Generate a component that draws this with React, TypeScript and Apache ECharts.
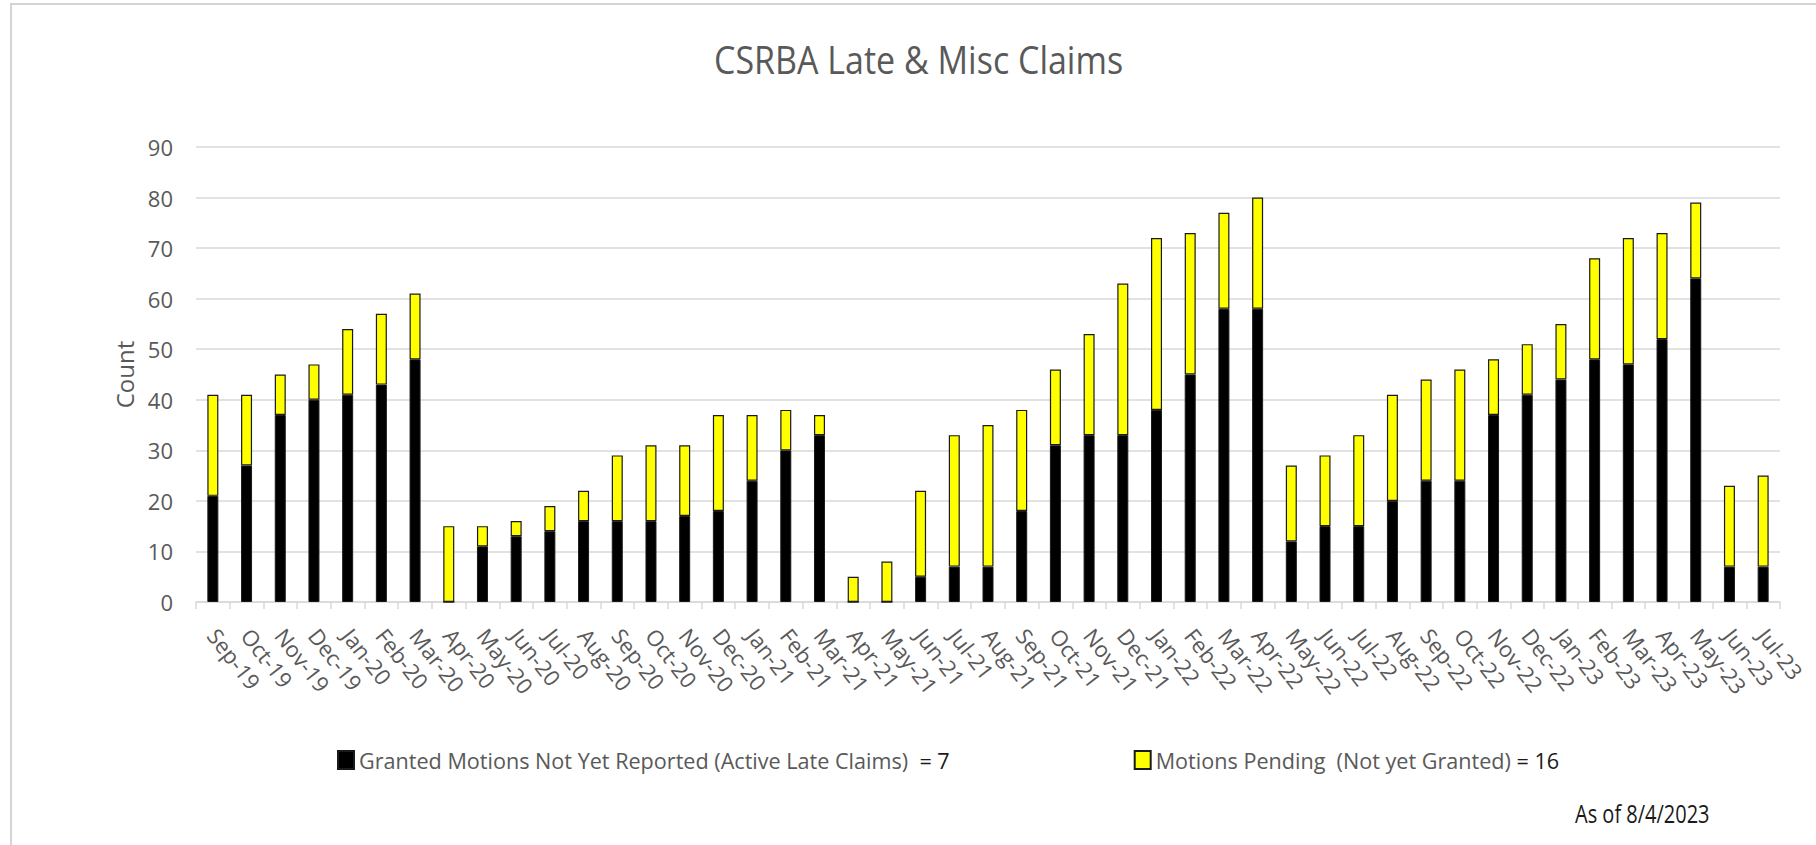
import React, { useEffect, useRef } from "react";
import * as echarts from "echarts";

const months: string[] = [
  "Sep-19", "Oct-19", "Nov-19", "Dec-19",
  "Jan-20", "Feb-20", "Mar-20", "Apr-20", "May-20", "Jun-20", "Jul-20", "Aug-20", "Sep-20", "Oct-20", "Nov-20", "Dec-20",
  "Jan-21", "Feb-21", "Mar-21", "Apr-21", "May-21", "Jun-21", "Jul-21", "Aug-21", "Sep-21", "Oct-21", "Nov-21", "Dec-21",
  "Jan-22", "Feb-22", "Mar-22", "Apr-22", "May-22", "Jun-22", "Jul-22", "Aug-22", "Sep-22", "Oct-22", "Nov-22", "Dec-22",
  "Jan-23", "Feb-23", "Mar-23", "Apr-23", "May-23", "Jun-23", "Jul-23",
];

const granted: number[] = [
  21, 27, 37, 40,
  41, 43, 48, 0, 11, 13, 14, 16, 16, 16, 17, 18,
  24, 30, 33, 0, 0, 5, 7, 7, 18, 31, 33, 33,
  38, 45, 58, 58, 12, 15, 15, 20, 24, 24, 37, 41,
  44, 48, 47, 52, 64, 7, 7,
];

const pending: number[] = [
  20, 14, 8, 7,
  13, 14, 13, 15, 4, 3, 5, 6, 13, 15, 14, 19,
  13, 8, 4, 5, 8, 17, 26, 28, 20, 15, 20, 30,
  34, 28, 19, 22, 15, 14, 18, 21, 20, 22, 11, 10,
  11, 20, 25, 21, 15, 16, 18,
];

const yTicks = { min: 0, max: 90, interval: 10 };

const titleText = "CSRBA Late & Misc Claims";
const grantedName = "Granted Motions Not Yet Reported (Active Late Claims)";
const grantedSuffix = "  = 7";
const pendingName = "Motions Pending  (Not yet Granted)";
const pendingSuffix = " = 16";
const asOfText = "As of 8/4/2023";
const yAxisName = "Count";

const FONT = "'Open Sans', sans-serif";
const GRAY = "#595959";

export default function App() {
  const ref = useRef<HTMLDivElement>(null);

  useEffect(() => {
    if (!ref.current) return;
    const chart = echarts.init(ref.current, undefined, { renderer: "svg" });
    const suffixes: Record<string, string> = {
      [grantedName]: grantedSuffix,
      [pendingName]: pendingSuffix,
    };
    chart.setOption({
      animation: false,
      backgroundColor: "#ffffff",
      textStyle: { fontFamily: FONT },
      graphic: [
        {
          type: "rect",
          silent: true,
          shape: { x: 11, y: 4, width: 1900, height: 900 },
          style: { fill: "none", stroke: "#d4d4d4", lineWidth: 2 },
        },
        {
          type: "text",
          x: 714,
          y: 59,
          scaleY: 1.15,
          style: {
            text: titleText,
            fontFamily: FONT,
            fontSize: 34,
            fill: GRAY,
            verticalAlign: "middle",
          },
        },
        {
          type: "text",
          x: 1575,
          y: 814,
          scaleY: 1.25,
          style: {
            text: asOfText,
            fontFamily: FONT,
            fontSize: 20,
            fill: "#1a1a1a",
            verticalAlign: "middle",
          },
        },
      ],
      legend: {
        left: 332,
        top: 744,
        itemWidth: 16,
        itemHeight: 18,
        itemGap: 184,
        icon: "rect",
        data: [grantedName, pendingName],
        formatter: (name: string) => `{a|${name}}{b|${suffixes[name] || ""}}`,
        textStyle: {
          fontFamily: FONT,
          fontSize: 21.6,
          color: GRAY,
          rich: {
            a: { fontFamily: FONT, fontSize: 21.6, color: GRAY },
            b: { fontFamily: FONT, fontSize: 21.6, color: "#1a1a1a" },
          },
        },
      },
      grid: { left: 196, top: 147, width: 1584, height: 455, containLabel: false },
      xAxis: {
        type: "category",
        data: months,
        axisLine: { show: true, lineStyle: { color: "#d9d9d9", width: 1.5 } },
        axisTick: { show: true, length: 7, lineStyle: { color: "#d9d9d9", width: 1.5 } },
        axisLabel: {
          interval: 0,
          rotate: -52,
          margin: 29,
          fontFamily: FONT,
          fontSize: 22,
          color: GRAY,
        },
      },
      yAxis: {
        type: "value",
        min: yTicks.min,
        max: yTicks.max,
        interval: yTicks.interval,
        name: yAxisName,
        nameLocation: "middle",
        nameGap: 60,
        nameTextStyle: { fontFamily: FONT, fontSize: 24, color: GRAY },
        axisLine: { show: false },
        axisTick: { show: false },
        axisLabel: { margin: 23, fontFamily: FONT, fontSize: 22, color: GRAY },
        splitLine: { lineStyle: { color: "#d9d9d9", width: 1.5 } },
      },
      series: [
        {
          name: grantedName,
          type: "bar",
          stack: "total",
          barWidth: 11,
          data: granted,
          itemStyle: { color: "#000000", borderColor: "#1a1a1a", borderWidth: 1 },
        },
        {
          name: pendingName,
          type: "bar",
          stack: "total",
          barWidth: 11,
          data: pending,
          itemStyle: { color: "#ffff00", borderColor: "#1a1a1a", borderWidth: 1.2 },
        },
      ],
    });
    return () => chart.dispose();
  }, []);

  return (
    <div
      ref={ref}
      style={{ position: "fixed", left: 0, top: 0, width: 1816, height: 845 }}
    />
  );
}
